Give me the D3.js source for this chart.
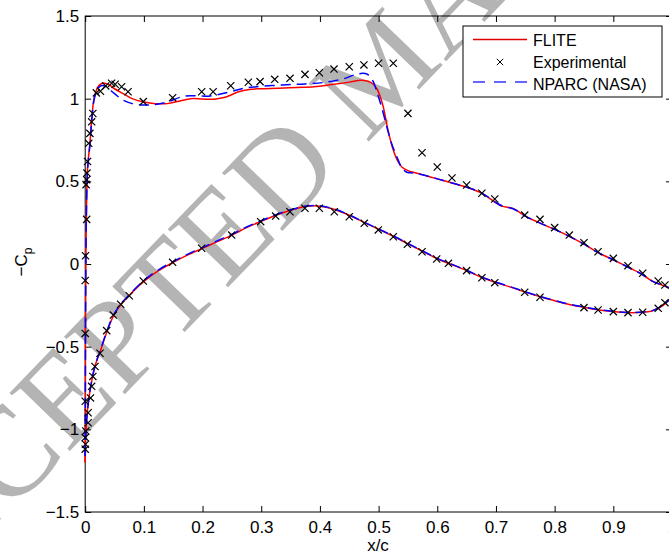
<!DOCTYPE html>
<html>
<head>
<meta charset="utf-8">
<script src="https://cdn.jsdelivr.net/npm/d3@7"></script>
<style>
  body { margin: 0; background: #fff; }
  svg { display: block; }
  text { font-family: "Liberation Sans", Arial, sans-serif; }
</style>
</head>
<body>
<div id="chart"></div>
<script>
// FLITE, upper surface (leading edge -> trailing edge)
const fliteUpperX = [0.0, 0.0002, 0.0004, 0.0008, 0.0015, 0.0025, 0.004, 0.008, 0.011, 0.015, 0.02, 0.025, 0.031, 0.04, 0.05, 0.065, 0.08, 0.1, 0.12, 0.14, 0.16, 0.18, 0.2, 0.22, 0.24, 0.26, 0.28, 0.3, 0.33, 0.36, 0.39, 0.42, 0.45, 0.47, 0.482, 0.49, 0.497, 0.503, 0.508, 0.516, 0.525, 0.533, 0.54, 0.55, 0.57, 0.6, 0.63, 0.65, 0.675, 0.7, 0.71, 0.73, 0.75, 0.78, 0.814, 0.85, 0.872, 0.9, 0.928, 0.95, 0.967, 0.985, 1.0];
const fliteUpperCp = [-1.2, -1.0, -0.6, -0.2, 0.15, 0.4, 0.58, 0.73, 0.87, 1.0, 1.06, 1.085, 1.095, 1.085, 1.06, 1.03, 1.0, 0.98, 0.97, 0.97, 0.985, 1.0, 0.998, 0.997, 1.01, 1.04, 1.056, 1.06, 1.063, 1.068, 1.072, 1.085, 1.1, 1.112, 1.105, 1.09, 1.06, 1.01, 0.95, 0.81, 0.69, 0.62, 0.585, 0.565, 0.545, 0.515, 0.485, 0.465, 0.43, 0.37, 0.35, 0.335, 0.29, 0.24, 0.187, 0.12, 0.073, 0.025, -0.024, -0.065, -0.105, -0.13, -0.15];

// FLITE, lower surface
const fliteLowerX = [0.0, 0.0005, 0.0015, 0.003, 0.005, 0.008, 0.011, 0.015, 0.02, 0.025, 0.037, 0.048, 0.06, 0.075, 0.1, 0.125, 0.15, 0.175, 0.2, 0.225, 0.25, 0.275, 0.3, 0.325, 0.35, 0.375, 0.4, 0.425, 0.45, 0.475, 0.5, 0.525, 0.55, 0.575, 0.6, 0.62, 0.65, 0.675, 0.7, 0.725, 0.75, 0.775, 0.8, 0.825, 0.85, 0.875, 0.9, 0.925, 0.95, 0.965, 0.975, 0.985, 0.993, 1.0];
const fliteLowerCp = [-1.2, -1.1, -1.0, -0.92, -0.85, -0.77, -0.71, -0.64, -0.58, -0.535, -0.41, -0.315, -0.25, -0.19, -0.105, -0.04, 0.01, 0.055, 0.095, 0.135, 0.175, 0.22, 0.258, 0.295, 0.325, 0.348, 0.35, 0.33, 0.295, 0.252, 0.21, 0.168, 0.122, 0.077, 0.032, 0.003, -0.04, -0.08, -0.112, -0.14, -0.17, -0.198, -0.222, -0.245, -0.262, -0.278, -0.288, -0.294, -0.292, -0.285, -0.27, -0.25, -0.225, -0.2];

// NPARC (NASA), upper surface
const nparcUpperX = [0.0, 0.0002, 0.0004, 0.0008, 0.0015, 0.0025, 0.004, 0.008, 0.011, 0.015, 0.02, 0.025, 0.03, 0.04, 0.05, 0.065, 0.08, 0.1, 0.12, 0.14, 0.17, 0.213, 0.247, 0.27, 0.292, 0.337, 0.3745, 0.409, 0.44, 0.46, 0.474, 0.483, 0.491, 0.498, 0.505, 0.514, 0.522, 0.531, 0.54, 0.548, 0.56, 0.58, 0.6, 0.63, 0.65, 0.675, 0.7, 0.71, 0.73, 0.75, 0.78, 0.814, 0.85, 0.872, 0.9, 0.928, 0.95, 0.967, 0.985, 1.0];
const nparcUpperCp = [-1.16, -1.0, -0.6, -0.2, 0.15, 0.4, 0.57, 0.72, 0.86, 0.99, 1.05, 1.075, 1.08, 1.06, 1.03, 0.99, 0.97, 0.962, 0.965, 0.98, 1.016, 1.016, 1.042, 1.062, 1.072, 1.083, 1.089, 1.099, 1.12, 1.145, 1.153, 1.143, 1.103, 1.03, 0.951, 0.83, 0.73, 0.649, 0.58, 0.555, 0.55, 0.535, 0.515, 0.485, 0.465, 0.43, 0.372, 0.352, 0.333, 0.29, 0.24, 0.187, 0.12, 0.073, 0.025, -0.024, -0.065, -0.105, -0.13, -0.15];

// NPARC (NASA), lower surface
const nparcLowerX = [0.0, 0.0005, 0.0015, 0.003, 0.005, 0.008, 0.011, 0.015, 0.02, 0.025, 0.037, 0.048, 0.06, 0.075, 0.1, 0.125, 0.15, 0.175, 0.2, 0.225, 0.25, 0.275, 0.3, 0.325, 0.35, 0.375, 0.4, 0.425, 0.45, 0.475, 0.5, 0.525, 0.55, 0.575, 0.6, 0.62, 0.65, 0.675, 0.7, 0.725, 0.75, 0.775, 0.8, 0.825, 0.85, 0.875, 0.9, 0.925, 0.95, 0.965, 0.975, 0.985, 0.993, 1.0];
const nparcLowerCp = [-1.16, -1.09, -1.0, -0.92, -0.85, -0.77, -0.71, -0.64, -0.58, -0.53, -0.405, -0.31, -0.245, -0.186, -0.1, -0.035, 0.015, 0.06, 0.1, 0.14, 0.18, 0.224, 0.262, 0.298, 0.328, 0.35, 0.352, 0.332, 0.297, 0.254, 0.212, 0.17, 0.124, 0.079, 0.034, 0.005, -0.038, -0.078, -0.11, -0.138, -0.168, -0.196, -0.22, -0.243, -0.26, -0.276, -0.287, -0.293, -0.291, -0.284, -0.269, -0.249, -0.224, -0.2];

// Experimental
const expX = [0.0, 0.0005, 0.0, 0.001, 0.005, 0.005, 0.009, 0.0, 0.011, 0.013, 0.0167, 0.0252, 0.0366, 0.048, 0.0605, 0.075, 0.099, 0.149, 0.1985, 0.2496, 0.299, 0.3246, 0.349, 0.3745, 0.399, 0.4245, 0.45, 0.4755, 0.4995, 0.525, 0.549, 0.574, 0.599, 0.619, 0.65, 0.676, 0.698, 0.749, 0.775, 0.85, 0.874, 0.9, 0.925, 0.95, 0.9765, 0.988,
  0.0, 0.0, 0.0005, 0.0025, 0.0015, 0.0025, 0.003, 0.004, 0.006, 0.008, 0.011, 0.013, 0.019, 0.026, 0.035, 0.045, 0.051, 0.062, 0.073, 0.099, 0.149, 0.1985, 0.218, 0.248, 0.278, 0.298, 0.323, 0.349, 0.3745, 0.399, 0.424, 0.45, 0.475, 0.5, 0.525, 0.55, 0.574, 0.6, 0.625, 0.65, 0.676, 0.698, 0.749, 0.775, 0.8, 0.825, 0.85, 0.874, 0.9, 0.925, 0.95, 0.9765, 0.988];
const expCp = [-1.12, -1.09, -1.05, -1.01, -0.96, -0.9, -0.81, -0.83, -0.74, -0.68, -0.62, -0.54, -0.403, -0.309, -0.244, -0.192, -0.103, 0.01, 0.095, 0.175, 0.256, 0.29, 0.316, 0.337, 0.337, 0.316, 0.286, 0.246, 0.206, 0.165, 0.119, 0.074, 0.03, 0.004, -0.04, -0.083, -0.113, -0.171, -0.201, -0.264, -0.278, -0.288, -0.294, -0.292, -0.268, -0.234,
  -0.42, -0.1, 0.05, 0.27, 0.48, 0.51, 0.55, 0.62, 0.73, 0.79, 0.86, 0.91, 1.035, 1.045, 1.077, 1.093, 1.087, 1.072, 1.042, 0.982, 1.006, 1.042, 1.042, 1.078, 1.099, 1.103, 1.117, 1.123, 1.147, 1.157, 1.179, 1.193, 1.204, 1.214, 1.214, 0.911, 0.673, 0.587, 0.52, 0.478, 0.428, 0.393, 0.296, 0.27, 0.22, 0.175, 0.129, 0.074, 0.034, -0.01, -0.056, -0.103, -0.127];

const xTicks = [0, 0.1, 0.2, 0.3, 0.4, 0.5, 0.6, 0.7, 0.8, 0.9, 1];
const yTicks = [-1.5, -1, -0.5, 0, 0.5, 1, 1.5];
const legendLabels = ["FLITE", "Experimental", "NPARC (NASA)"];

const W = 669, H = 554;
const mLeft = 85.2, mRight = 672, mTop = 16, mBottom = 512;

const svg = d3.select("#chart").append("svg")
    .attr("width", W)
    .attr("height", H);

// Watermark, behind everything
svg.append("text")
    .attr("transform", "translate(381,67) rotate(-46)")
    .attr("text-anchor", "middle")
    .attr("dominant-baseline", "central")
    .style("font-family", "'Liberation Serif', 'Times New Roman', serif")
    .style("font-size", "128px")
    .attr("fill", "#b4b4b4")
    .text("ACCEPTED MANUSCRIPT");

const x = d3.scaleLinear().domain([0, 1]).range([mLeft, mRight]);
const y = d3.scaleLinear().domain([-1.5, 1.5]).range([mBottom, mTop]);

const fmtX = d => String(+d.toFixed(1));
const fmtY = d => (d < 0 ? "\u2212" : "") + String(Math.abs(d));

// Axes (ticks point inward like MATLAB)
function styleAxis(g, labels) {
    g.select(".domain").remove();
    g.selectAll(".tick line").attr("stroke", "#000");
    g.selectAll(".tick text")
        .attr("fill", "#000")
        .style("font-size", "17px")
        .style("font-family", "'Liberation Sans', Arial, sans-serif");
    if (!labels) g.selectAll(".tick text").remove();
}

svg.append("g")
    .attr("transform", `translate(0,${mBottom})`)
    .call(d3.axisBottom(x).tickValues(xTicks).tickSize(-6).tickPadding(9).tickFormat(fmtX))
    .call(g => styleAxis(g, true));
svg.append("g")
    .attr("transform", `translate(0,${mTop})`)
    .call(d3.axisTop(x).tickValues(xTicks).tickSize(-6))
    .call(g => styleAxis(g, false));
svg.append("g")
    .attr("transform", `translate(${mLeft},0)`)
    .call(d3.axisLeft(y).tickValues(yTicks).tickSize(-6).tickPadding(6).tickFormat(fmtY))
    .call(g => styleAxis(g, true));
svg.append("g")
    .attr("transform", `translate(${mRight},0)`)
    .call(d3.axisRight(y).tickValues(yTicks).tickSize(-6))
    .call(g => styleAxis(g, false));

// Frame
svg.append("rect")
    .attr("x", mLeft).attr("y", mTop)
    .attr("width", mRight - mLeft).attr("height", mBottom - mTop)
    .attr("fill", "none").attr("stroke", "#000").attr("stroke-width", 1);

// Axis labels
svg.append("text")
    .attr("x", 378).attr("y", 551)
    .attr("text-anchor", "middle")
    .style("font-size", "17px")
    .text("x/c");

const yl = svg.append("text")
    .attr("transform", "translate(27,262) rotate(-90)")
    .attr("text-anchor", "middle")
    .style("font-size", "17px");
yl.append("tspan").text("\u2212C");
yl.append("tspan").attr("dy", 5).style("font-size", "12px").text("p");

// Curves
const line = d3.line()
    .x(d => x(d[0]))
    .y(d => y(d[1]))
    .curve(d3.curveCatmullRom.alpha(0.5));

const zip = (a, b) => a.map((v, i) => [v, b[i]]);

const plot = svg.append("g");

[[fliteUpperX, fliteUpperCp], [fliteLowerX, fliteLowerCp]].forEach(s => {
    plot.append("path")
        .attr("d", line(zip(s[0], s[1])))
        .attr("fill", "none")
        .attr("stroke", "#ff0000")
        .attr("stroke-width", 1.5);
});

[[nparcUpperX, nparcUpperCp], [nparcLowerX, nparcLowerCp]].forEach(s => {
    plot.append("path")
        .attr("d", line(zip(s[0], s[1])))
        .attr("fill", "none")
        .attr("stroke", "#0000ff")
        .attr("stroke-width", 1.5)
        .attr("stroke-dasharray", "10,6");
});

// Experimental crosses
const cross = r => `M${-r},${-r}L${r},${r}M${-r},${r}L${r},${-r}`;
plot.selectAll(".exp")
    .data(zip(expX, expCp))
    .enter()
    .append("path")
    .attr("class", "exp")
    .attr("transform", d => `translate(${x(d[0])},${y(d[1])})`)
    .attr("d", cross(3.6))
    .attr("fill", "none")
    .attr("stroke", "#000")
    .attr("stroke-width", 1.2);

// Legend
const lg = svg.append("g");
lg.append("rect")
    .attr("x", 463).attr("y", 26)
    .attr("width", 199).attr("height", 71)
    .attr("fill", "#fff").attr("stroke", "#000").attr("stroke-width", 1);
lg.append("line")
    .attr("x1", 473).attr("x2", 527).attr("y1", 39.5).attr("y2", 39.5)
    .attr("stroke", "#e00000").attr("stroke-width", 1.3);
lg.append("path")
    .attr("transform", "translate(500,62)")
    .attr("d", cross(3.2))
    .attr("stroke", "#000").attr("stroke-width", 1);
lg.append("line")
    .attr("x1", 473).attr("x2", 527).attr("y1", 82).attr("y2", 82)
    .attr("stroke", "#3333ff").attr("stroke-width", 1.3)
    .attr("stroke-dasharray", "12,9");
lg.selectAll(".lgText")
    .data(legendLabels)
    .enter()
    .append("text")
    .attr("class", "lgText")
    .attr("x", 533)
    .attr("y", (d, i) => 46 + i * 22)
    .style("font-size", "16px")
    .text(d => d);
</script>
</body>
</html>
